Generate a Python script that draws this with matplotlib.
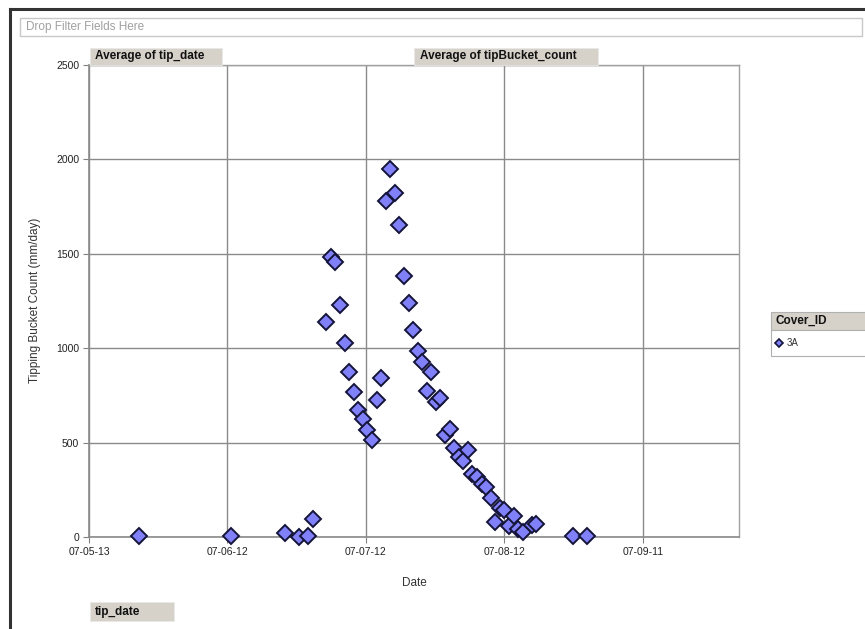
import datetime as dt
import matplotlib
matplotlib.use('Agg')
import matplotlib.pyplot as plt
import matplotlib.dates as mdates
from matplotlib.patches import Rectangle
from matplotlib.lines import Line2D

plt.rcParams['font.family'] = ['Liberation Sans', 'DejaVu Sans']

# data: tip date / average tipping bucket count (mm/day)
tip_dates = [
    '2007-05-24', '2007-06-13', '2007-06-25', '2007-06-28', '2007-06-30', '2007-07-01',
    '2007-07-04', '2007-07-05', '2007-07-06', '2007-07-07', '2007-07-08', '2007-07-09',
    '2007-07-10', '2007-07-11', '2007-07-12', '2007-07-13', '2007-07-14', '2007-07-15',
    '2007-07-16', '2007-07-17', '2007-07-18', '2007-07-19', '2007-07-20', '2007-07-21',
    '2007-07-22', '2007-07-23', '2007-07-24', '2007-07-25', '2007-07-26', '2007-07-27',
    '2007-07-28', '2007-07-29', '2007-07-30', '2007-07-31', '2007-08-01', '2007-08-02',
    '2007-08-03', '2007-08-04', '2007-08-05', '2007-08-06', '2007-08-07', '2007-08-08',
    '2007-08-09', '2007-08-10', '2007-08-11', '2007-08-12', '2007-08-13', '2007-08-14',
    '2007-08-15', '2007-08-16', '2007-08-18', '2007-08-19', '2007-08-27', '2007-08-30',
]
tip_counts = [
    7, 3, 20, 2, 7, 94,
    1138, 1481, 1455, 1230, 1027, 874,
    768, 671, 627, 566, 516, 724,
    844, 1781, 1950, 1820, 1654, 1381,
    1238, 1095, 985, 927, 771, 874,
    716, 734, 542, 574, 471, 424,
    401, 459, 332, 318, 283, 265,
    208, 79, 155, 145, 58, 110,
    44, 26, 62, 71, 4, 4,
]
x_start = '2007-05-13'
x_major_days = 30.33
x_span_days = 142.4
x_tick_labels = ['07-05-13', '07-06-12', '07-07-12', '07-08-12', '07-09-11']
y_ticks = [0, 500, 1000, 1500, 2000, 2500]

W, H = 865, 629


def fx(x):
    return x / W


def fy(y):
    return 1 - y / H


def to_date(s):
    return mdates.date2num(dt.datetime.strptime(s, '%Y-%m-%d'))


fig = plt.figure(figsize=(W / 100, H / 100), dpi=100)

# plot area in pixel coords: left 89, right 739, top 65, bottom 537
ax = fig.add_axes([fx(89), fy(537), fx(739 - 89), (537 - 65) / H])

xs = [to_date(d) for d in tip_dates]
ax.plot(xs, tip_counts, linestyle='none', marker='D', markersize=8.5,
        markerfacecolor='#8080f8', markeredgecolor='#14143a', markeredgewidth=1.4,
        zorder=3, clip_on=False)

x0 = to_date(x_start)
ax.set_xlim(x0, x0 + x_span_days)
ax.set_ylim(0, 2500)
ax.set_xticks([x0 + k * x_major_days for k in range(len(x_tick_labels))])
ax.set_xticklabels(x_tick_labels)
ax.set_yticks(y_ticks)
ax.tick_params(labelsize=7.5, length=4, color='#808080', labelcolor='#222222', pad=3)
ax.grid(True, color='#8a8a8a', linewidth=1.0)
ax.set_axisbelow(True)
for side in ['left', 'bottom']:
    ax.spines[side].set_color('#8a8a8a')
    ax.spines[side].set_linewidth(1.2)
for side in ['top', 'right']:
    ax.spines[side].set_color('#a0a0a0')
    ax.spines[side].set_linewidth(1.0)

fig.text(fx(35), fy(300), 'Tipping Bucket Count (mm/day)', rotation=90,
         ha='center', va='center', fontsize=8.5, color='#333333')
fig.text(fx(414), fy(583), 'Date', ha='center', va='center', fontsize=8.5, color='#333333')


def box(x0, y0, x1, y1, face, edge, lw=1.0):
    fig.patches.append(Rectangle((fx(x0), fy(y1)), fx(x1 - x0), (y1 - y0) / H,
                                 transform=fig.transFigure, facecolor=face,
                                 edgecolor=edge, linewidth=lw))


# outer frame (cropped)
fig.lines.append(Line2D([fx(10), 1], [fy(9), fy(9)], transform=fig.transFigure,
                        color='#333333', linewidth=2.2))
fig.lines.append(Line2D([fx(10), fx(10)], [fy(9), 0], transform=fig.transFigure,
                        color='#333333', linewidth=2.2))

# filter drop zone
box(20, 18, 862, 36, 'white', '#c8c8c8')
fig.text(fx(26), fy(27), 'Drop Filter Fields Here', ha='left', va='center',
         fontsize=8.5, color='#a0a0a0')

# field buttons
btn_gray = '#d6d2ca'
box(90, 48, 222, 65, btn_gray, '#e8e8e8', 0.6)
fig.text(fx(95), fy(56.5), 'Average of tip_date', ha='left', va='center',
         fontsize=8.5, fontweight='bold', color='#111111')
box(414, 48, 598, 65, btn_gray, '#e8e8e8', 0.6)
fig.text(fx(420), fy(56.5), 'Average of tipBucket_count', ha='left', va='center',
         fontsize=8.5, fontweight='bold', color='#111111')
box(90, 602, 174, 621, btn_gray, '#e8e8e8', 0.6)
fig.text(fx(95), fy(611.5), 'tip_date', ha='left', va='center',
         fontsize=8.5, fontweight='bold', color='#111111')

# legend
box(771, 312, 866, 330, btn_gray, '#b0b0b0', 0.8)
fig.text(fx(776), fy(321), 'Cover_ID', ha='left', va='center',
         fontsize=8.5, fontweight='bold', color='#111111')
box(771, 330, 866, 356, 'white', '#b0b0b0', 0.8)
fig.lines.append(Line2D([fx(779)], [fy(343)], transform=fig.transFigure,
                        linestyle='none', marker='D', markersize=4.5,
                        markerfacecolor='#8080f8', markeredgecolor='#14143a',
                        markeredgewidth=1.2))
fig.text(fx(787), fy(343), '3A', ha='left', va='center', fontsize=7, color='#333333')

fig.savefig('out.png', dpi=100)
